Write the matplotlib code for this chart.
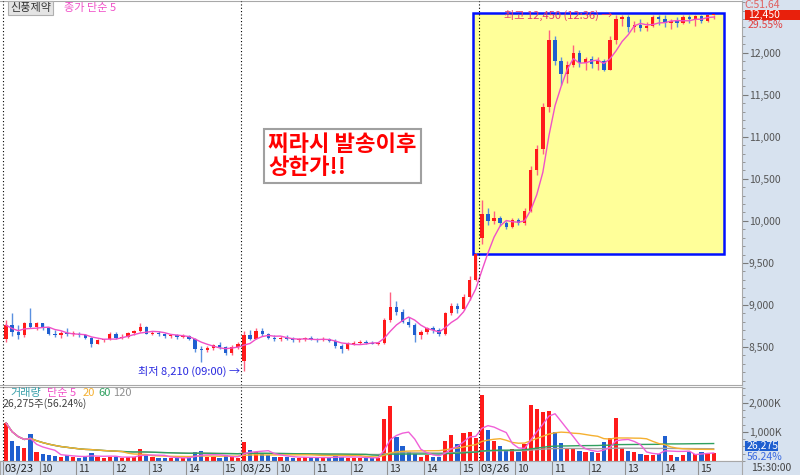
import matplotlib
matplotlib.use('Agg')
import matplotlib.pyplot as plt
import numpy as np
import pandas as pd
from matplotlib.patches import Rectangle
from matplotlib.ticker import FixedLocator, MultipleLocator, FuncFormatter

plt.rcParams['font.family'] = ['Noto Sans CJK KR', 'DejaVu Sans']

# ---------------- data (10-minute bars, 39 per session) ----------------
day_labels = ['03/23', '03/25', '03/26']
hour_labels = ['10', '11', '12', '13', '14', '15']

open_d1 = [8600,8760,8680,8640,8780,8740,8780,8720,8660,8640,8670,8650,8660,8640,8610,8540,8580,8590,8650,8610,
           8620,8670,8690,8740,8660,8670,8650,8630,8640,8620,8630,8600,8480,8460,8490,8520,8500,8430,8500]
high_d1 = [8820,8900,8760,8800,8960,8800,8790,8740,8700,8690,8720,8690,8680,8660,8620,8590,8600,8680,8680,8650,
           8680,8700,8780,8750,8690,8690,8670,8660,8660,8650,8640,8610,8510,8510,8540,8560,8510,8520,8560]
low_d1 = [8560,8630,8600,8620,8720,8700,8700,8640,8620,8610,8630,8630,8620,8590,8500,8530,8560,8580,8600,8590,
          8610,8640,8680,8650,8640,8630,8610,8610,8600,8610,8580,8440,8320,8440,8470,8480,8400,8410,8480]
close_d1 = [8760,8680,8640,8780,8740,8780,8720,8660,8640,8670,8650,8660,8640,8610,8540,8580,8590,8650,8610,8620,
            8670,8690,8740,8660,8670,8650,8630,8640,8620,8630,8600,8480,8460,8490,8520,8500,8430,8500,8540]

open_d2 = [8330,8640,8600,8690,8650,8610,8590,8610,8600,8580,8590,8600,8590,8580,8600,8570,8510,8480,8540,8550,
           8560,8550,8540,8550,8820,8980,8920,8800,8760,8640,8680,8720,8700,8650,8900,8990,8950,9100,9300]
high_d2 = [8690,8700,8720,8720,8670,8640,8630,8640,8620,8610,8620,8630,8610,8620,8610,8590,8540,8560,8570,8580,
           8580,8570,8560,8850,9150,9050,8950,8860,8780,8700,8740,8750,8720,8920,9020,9020,9130,9350,9620]
low_d2 = [8210,8580,8590,8630,8590,8570,8570,8580,8560,8560,8570,8580,8560,8570,8560,8490,8430,8470,8520,8530,
          8540,8530,8520,8540,8800,8880,8780,8740,8560,8600,8650,8670,8630,8640,8880,8900,8940,9060,9280]
close_d2 = [8640,8600,8690,8650,8610,8590,8610,8600,8580,8590,8600,8590,8580,8600,8570,8510,8480,8540,8550,8560,
            8550,8540,8550,8820,8980,8920,8800,8760,8640,8680,8720,8700,8650,8900,8990,8950,9100,9300,9610]

open_d3 = [9800,10080,10000,10040,9970,9930,10010,9970,10120,10600,10850,11350,12150,11900,11750,11850,12000,11880,
           11920,11860,11900,11800,12150,12400,12420,12300,12330,12290,12320,12430,12400,12350,12380,12350,12420,
           12400,12440,12380,12450]
high_d3 = [10250,10150,10120,10060,10000,10040,10030,10150,10650,10900,11400,12270,12200,11950,11900,12090,12030,
           11950,11960,11950,11920,12200,12450,12450,12450,12380,12400,12360,12450,12450,12450,12400,12420,12450,
           12450,12450,12450,12450,12450]
low_d3 = [9720,9950,9960,9940,9900,9920,9950,9950,10100,10550,10800,11300,11850,11620,11640,11830,11830,11800,
          11820,11800,11780,11790,12100,12320,12250,12250,12260,12260,12300,12330,12300,12280,12300,12340,12350,
          12320,12350,12370,12400]
close_d3 = [10080,10000,10040,9970,9930,10010,9970,10120,10600,10850,11350,12150,11900,11750,11850,12000,11880,
            11920,11860,11900,11800,12150,12400,12420,12300,12330,12290,12320,12430,12400,12350,12380,12350,12420,
            12400,12440,12380,12450,12450]

# volume in thousands of shares
vol_d1 = [1310,700,500,450,920,300,250,200,180,150,200,150,120,150,270,150,120,150,130,120,
          150,130,400,200,150,120,100,120,100,100,150,300,350,150,130,120,200,150,120]
vol_d2 = [650,370,300,250,200,150,150,130,120,120,130,120,110,120,100,200,150,120,110,100,
          120,100,120,1440,1890,830,500,300,250,150,200,150,150,700,890,600,950,990,800]
vol_d3 = [2270,1060,700,500,350,400,300,600,1920,1780,1690,1720,1000,610,450,400,350,300,300,280,
          650,780,1470,450,350,300,250,200,200,250,850,200,150,200,300,250,300,250,280]

price_ticks = [8500, 9000, 9500, 10000, 10500, 11000, 11500, 12000]
vol_ticks = [1000, 2000]

# ---------------- assemble ----------------
O = np.array(open_d1 + open_d2 + open_d3, dtype=float)
Hh = np.array(high_d1 + high_d2 + high_d3, dtype=float)
L = np.array(low_d1 + low_d2 + low_d3, dtype=float)
C = np.array(close_d1 + close_d2 + close_d3, dtype=float)
V = np.array(vol_d1 + vol_d2 + vol_d3, dtype=float)
n = len(C)
xs = np.arange(n) + 0.5
per_day = 39

W, H = 800, 475
fig = plt.figure(figsize=(8, 4.75), dpi=100)
fig.patch.set_facecolor('white')


def frect(x0, y0, x1, y1):
    return [x0 / W, 1 - y1 / H, (x1 - x0) / W, (y1 - y0) / H]


def fx(px):
    return px / W


def fy(py):
    return 1 - py / H


PANEL = '#d7e2ef'
GRAY = '#a8a8a8'
RED = '#ff1a1a'
BLUE = '#1f5fd0'
PINK = '#f050c8'

fig.add_artist(Rectangle((fx(742), 0), fx(58), 1, transform=fig.transFigure,
                         facecolor=PANEL, edgecolor='none', zorder=0))

XL = (-0.49, (742 - 3) / 6.1)

# ---------------- price panel ----------------
ax_p = fig.add_axes(frect(0, 1, 742, 385))
ax_p.set_facecolor('white')
ax_p.set_xlim(*XL)
ax_p.set_ylim(8048, 12615)

# highlighted box
ax_p.add_patch(Rectangle((77.05, 9606), 118.2 - 77.05, 12472 - 9606,
                         facecolor='#ffff99', edgecolor='#0010ff', lw=1.8, zorder=0.5))

up = C >= O
body_col = np.where(up, RED, BLUE)
wick_col = np.where(up, '#ff6080', '#5a90e0')
ax_p.vlines(xs, L, Hh, colors=wick_col, lw=1.0, zorder=2)
ax_p.bar(xs, np.maximum(np.abs(C - O), 12), bottom=np.minimum(O, C), width=0.55,
         color=body_col, edgecolor='none', zorder=3)

ma5 = pd.Series(C).rolling(5, min_periods=1).mean()
ax_p.plot(xs, ma5, color=PINK, lw=1.0, zorder=4)

for d in range(3):
    ax_p.axvline(d * per_day, color='black', ls=(0, (1, 2)), lw=0.8, zorder=5)

ax_p.yaxis.tick_right()
ax_p.yaxis.set_major_locator(FixedLocator(price_ticks))
ax_p.yaxis.set_minor_locator(MultipleLocator(100))
ax_p.yaxis.set_major_formatter(FuncFormatter(lambda v, p: f'{int(v):,}'))
ax_p.tick_params(axis='y', which='major', direction='out', length=4, width=0.8,
                 colors='#7a7a7a', labelcolor='#555555', labelsize=7.5, pad=1)
ax_p.tick_params(axis='y', which='minor', direction='out', length=2, width=0.6, colors='#8a8a8a')
ax_p.set_xticks([])
ax_p.spines['left'].set_visible(False)
for s in ['top', 'bottom', 'right']:
    ax_p.spines[s].set_color(GRAY)
    ax_p.spines[s].set_linewidth(0.8)

# annotations
ax_p.text(38.85, 8210, '최저 8,210 (09:00) →', ha='right', va='center', fontsize=8, color='#2a2ae0', zorder=6)
ax_p.text(100.0, 12440, '최고 12,450 (12:36) →', ha='right', va='center', fontsize=8, color='#e8386a', zorder=6)

fig.text(fx(268), fy(156), '찌라시 발송이후\n상한가!!', ha='left', va='center', fontsize=16,
         fontweight='bold', color='#ff0000', linespacing=1.0,
         bbox=dict(boxstyle='square,pad=0.2', fc='white', ec='#a0a0a0', lw=1.5), zorder=10)

# top-left legend
fig.text(fx(10), fy(8), '신풍제약', ha='left', va='center', fontsize=8, color='#333333',
         bbox=dict(boxstyle='square,pad=0.15', fc='#e4e4e4', ec='#b0b0b0', lw=0.8))
fig.text(fx(64), fy(8), '종가 단순 5', ha='left', va='center', fontsize=8, color=PINK)

# right panel labels (price)
fig.text(fx(744), fy(5), 'C:51.64', ha='left', va='center', fontsize=7.5, color='#e06060')
fig.add_artist(Rectangle((fx(745), fy(20)), fx(55), 10 / H, transform=fig.transFigure,
                         facecolor='#e8200c', edgecolor='none', zorder=3))
fig.text(fx(748), fy(15), '12,450', ha='left', va='center', fontsize=7.5, color='white', zorder=4)
fig.text(fx(748), fy(25), '29.55%', ha='left', va='center', fontsize=7.5, color='#e04040')

# ---------------- volume panel ----------------
ax_v = fig.add_axes(frect(0, 387, 742, 461))
ax_v.set_facecolor('white')
ax_v.set_xlim(*XL)
ax_v.set_ylim(0, 2541)
ax_v.bar(xs, V, width=0.7, color=body_col, edgecolor='none', zorder=2)
vs = pd.Series(V)
for w, col in [(120, '#a0a0a0'), (60, '#30a060'), (20, '#f5b030'), (5, '#f060d8')]:
    ax_v.plot(xs, vs.rolling(w, min_periods=1).mean(), color=col, lw=1.0, zorder=3)
for d in range(3):
    ax_v.axvline(d * per_day, color='black', ls=(0, (1, 2)), lw=0.8, zorder=5)
ax_v.yaxis.tick_right()
ax_v.yaxis.set_major_locator(FixedLocator(vol_ticks))
ax_v.yaxis.set_minor_locator(MultipleLocator(250))
ax_v.yaxis.set_major_formatter(FuncFormatter(lambda v, p: f'{int(v):,}K'))
ax_v.tick_params(axis='y', which='major', direction='out', length=4, width=0.8,
                 colors='#7a7a7a', labelcolor='#555555', labelsize=7.5, pad=1)
ax_v.tick_params(axis='y', which='minor', direction='out', length=2, width=0.6, colors='#8a8a8a')
ax_v.set_xticks([])
ax_v.spines['left'].set_visible(False)
for s in ['top', 'bottom', 'right']:
    ax_v.spines[s].set_color(GRAY)
    ax_v.spines[s].set_linewidth(0.8)

# volume legend
yl = 393
fig.text(fx(10), fy(yl), '거래량', ha='left', va='center', fontsize=8, color='#3aa0aa')
fig.text(fx(47), fy(yl), '단순 5', ha='left', va='center', fontsize=8, color=PINK)
fig.text(fx(83), fy(yl), '20', ha='left', va='center', fontsize=8, color='#f5b030')
fig.text(fx(98), fy(yl), '60', ha='left', va='center', fontsize=8, color='#30a060')
fig.text(fx(113), fy(yl), '120', ha='left', va='center', fontsize=8, color='#909090')
fig.text(fx(3), fy(404), '26,275주(56.24%)', ha='left', va='center', fontsize=7.5, color='#444444')

fig.add_artist(Rectangle((fx(745), fy(451)), fx(33), 10 / H, transform=fig.transFigure,
                         facecolor='#1f5fd0', edgecolor='none', zorder=3))
fig.text(fx(747), fy(446), '26,275', ha='left', va='center', fontsize=7.5, color='white', zorder=4)
fig.text(fx(747), fy(456.5), '56.24%', ha='left', va='center', fontsize=7.5, color='#3a6ae0')

# ---------------- time strip ----------------
ax_x = fig.add_axes(frect(0, 461, 742, 475))
ax_x.set_facecolor(PANEL)
ax_x.set_xlim(*XL)
ax_x.set_ylim(0, 1)
ax_x.set_xticks([])
ax_x.set_yticks([])
for s in ax_x.spines.values():
    s.set_color(GRAY)
    s.set_linewidth(0.8)
for d in range(3):
    base = d * per_day
    ax_x.axvline(base, color='#909090', lw=0.8)
    ax_x.text(base + 0.3, 0.45, day_labels[d], ha='left', va='center', fontsize=8, color='#222222')
    for k, hl in enumerate(hour_labels):
        pos = base + 6 * (k + 1)
        ax_x.axvline(pos, color='#909090', lw=0.8)
        ax_x.text(pos + 0.3, 0.45, hl, ha='left', va='center', fontsize=7.5, color='#333333')

fig.text(fx(751), fy(468), '15:30:00', ha='left', va='center', fontsize=7.5, color='#444444')

fig.savefig('out.png', dpi=100, facecolor='white')
